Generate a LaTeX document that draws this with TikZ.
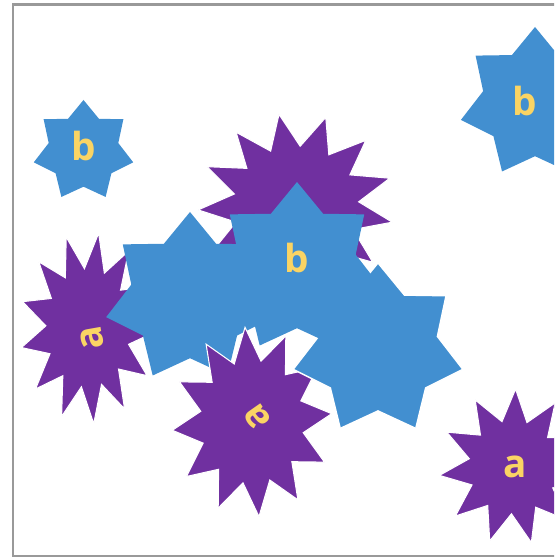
\documentclass[tikz,border=0pt]{standalone}
\usepackage{fontspec}
\setmainfont{Open Sans}
\definecolor{starblue}{RGB}{66,143,208}
\definecolor{starpurple}{RGB}{112,48,160}
\definecolor{labelgold}{RGB}{250,212,100}
% star outline: points, start angle, inner radius (outer radius is 1)
\newcommand{\spiky}[3]{(#2:1) \foreach \k in {1,...,#1} {-- ({#2+(\k-0.5)*360/#1}:#3) -- ({#2+\k*360/#1}:1)} -- cycle}
\tikzset{
  bluestar/.style={fill=starblue},
  purplestar/.style={fill=starpurple, draw=white, line width=0.6pt},
  lbl/.style={text=labelgold, font=\bfseries\fontsize{22}{22}\selectfont, inner sep=0pt},
}
\begin{document}
\begin{tikzpicture}[x=0.02cm,y=0.02cm]
\useasboundingbox (0,0) rectangle (554,560);
\clip (0,0) rectangle (554,560);
\draw[black!40, line width=0.06cm] (13,4) rectangle (620,555);
% stars in the back
\fill[purplestar, shift={(88,232)}, xscale=68, yscale=96] \spiky{13}{81}{0.62};
\fill[purplestar, shift={(296,355)}, xscale=98, yscale=92] \spiky{13}{100}{0.64};
\fill[bluestar, shift={(190,262)}, scale=86] \spiky{7}{90}{0.70};
\fill[purplestar, shift={(252,138)}, xscale=80, yscale=95] \spiky{12}{65}{0.65};
\fill[bluestar, draw=white, line width=0.8pt, shift={(378,210)}, scale=87] \spiky{7}{90}{0.70};
\fill[bluestar, shift={(297,292)}, scale=86] \spiky{7}{90}{0.70};
% stars on their own
\fill[bluestar, shift={(83.5,409)}, scale=51] \spiky{7}{90}{0.70};
\fill[bluestar, shift={(535,457)}, scale=76] \spiky{7}{90}{0.70};
\fill[purplestar, shift={(513,93)}, xscale=74, yscale=78] \spiky{11}{88}{0.60};
% labels
\node[lbl] (b1) at (84,414) {b};
\node[lbl] (b2) at (525,459) {b};
\node[lbl] (b4) at (297,302) {b};
\node[lbl, rotate=100] (a1) at (92,222) {a};
\node[lbl, rotate=125] (a3) at (257,143) {a};
\node[lbl] (a4) at (515,93) {a};
\end{tikzpicture}
\end{document}
